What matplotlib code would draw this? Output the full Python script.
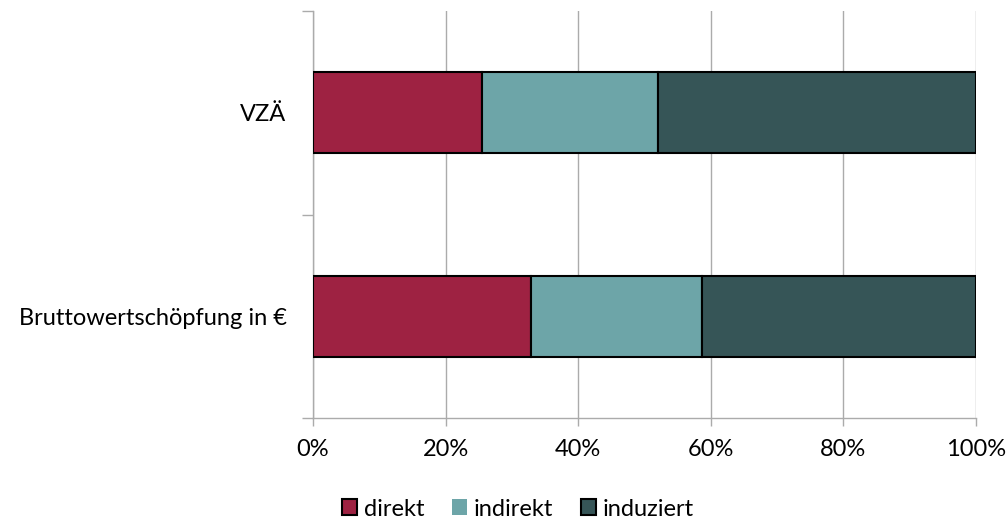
import matplotlib
matplotlib.use("Agg")
import matplotlib.pyplot as plt
import matplotlib.patches as mpatches
import numpy as np

# Anteile je Effektart (in %)
CATEGORIES = ["Bruttowertschöpfung in €", "VZÄ"]
SERIES = ["direkt", "indirekt", "induziert"]
DIREKT = [32.9, 25.5]
INDIREKT = [25.7, 26.6]
INDUZIERT = [41.4, 47.9]
XTICKS = [0, 20, 40, 60, 80, 100]
XTICK_LABELS = ["0%", "20%", "40%", "60%", "80%", "100%"]

COLORS = {
    "direkt": "#9E2242",
    "indirekt": "#6DA5A8",
    "induziert": "#365557",
}
GRID = "#ABABAB"
FS = 17

plt.rcParams["font.family"] = ["Lato", "DejaVu Sans"]

fig = plt.figure(figsize=(10.08, 5.19), dpi=100)
ax = fig.add_axes([313 / 1008, 1 - 418 / 519, 663 / 1008, 407 / 519])

y = np.arange(len(CATEGORIES))
left = np.zeros(len(CATEGORIES))
for name, vals in zip(SERIES, [DIREKT, INDIREKT, INDUZIERT]):
    ax.barh(y, vals, left=left, height=0.4, color=COLORS[name],
            edgecolor="black", linewidth=1.5, zorder=3)
    left += np.array(vals)

ax.set_xlim(0, 100)
ax.set_ylim(-0.5, 1.5)
ax.set_xticks(XTICKS)
ax.set_xticklabels(XTICK_LABELS, fontsize=FS)
ax.set_yticks(y)
ax.set_yticklabels(CATEGORIES, fontsize=FS)
ax.set_yticks([-0.5, 0.5, 1.5], minor=True)

ax.tick_params(axis="y", which="major", length=0, pad=19)
ax.tick_params(axis="y", which="minor", length=8, color=GRID, width=1)
ax.tick_params(axis="x", length=6, color=GRID, width=1, pad=9)

ax.xaxis.grid(True, color=GRID, linewidth=1, zorder=0)
ax.set_axisbelow(True)
for s in ["top", "right"]:
    ax.spines[s].set_visible(False)
for s in ["left", "bottom"]:
    ax.spines[s].set_color(GRID)
    ax.spines[s].set_linewidth(1)

handles = [
    mpatches.Patch(facecolor=COLORS["direkt"], edgecolor="black", linewidth=1.5, label="direkt"),
    mpatches.Patch(facecolor=COLORS["indirekt"], edgecolor="none", label="indirekt"),
    mpatches.Patch(facecolor=COLORS["induziert"], edgecolor="black", linewidth=1.5, label="induziert"),
]
fig.legend(handles=handles, loc="center", bbox_to_anchor=(518 / 1008, 1 - 509 / 519),
           ncol=3, frameon=False, fontsize=FS, handlelength=0.64, handleheight=0.64,
           handletextpad=0.3, columnspacing=1.15, borderpad=0, borderaxespad=0)

fig.savefig("out.png", dpi=100)
